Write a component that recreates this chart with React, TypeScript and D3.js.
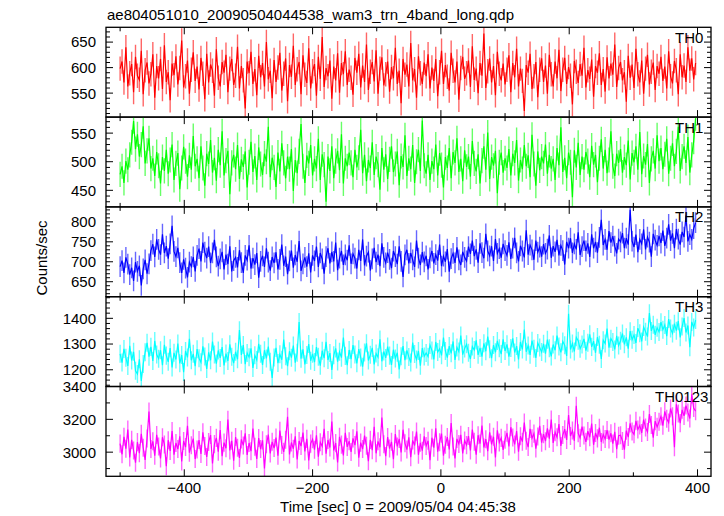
import React from 'react';
import * as d3 from 'd3';

const TITLE = 'ae804051010_20090504044538_wam3_trn_4band_long.qdp';
const X_LABEL = 'Time [sec] 0 = 2009/05/04 04:45:38';
const Y_LABEL = 'Counts/sec';
const T_START = -500;
const T_BIN = 3;
const X_DOMAIN = [-522, 421];
const X_MAJOR = [-400, -200, 0, 200, 400];
const X_MINOR = [-500, -300, -100, 100, 300];
const SERIES_NAMES = ['TH0', 'TH1', 'TH2', 'TH3', 'TH0123'];

const TH0 = [
  598,612,571,640,563,589,607,552,621,584,576,633,548,595,610,569,587,626,541,603,
  579,617,558,644,572,591,536,608,585,622,567,599,653,561,583,614,549,596,630,574,
  602,557,619,588,538,627,571,606,594,545,636,580,563,611,590,625,552,598,617,566,
  584,641,559,603,575,520,612,589,631,568,597,546,623,581,609,563,650,577,594,540,
  615,572,600,629,555,588,618,534,605,582,643,566,597,611,548,624,586,570,638,559,
  593,607,545,621,578,660,562,599,583,614,539,602,575,628,551,609,587,632,566,596,
  580,547,619,590,627,561,604,572,645,556,592,611,573,634,549,598,620,565,587,612,
  553,601,579,639,568,594,530,617,586,606,563,648,575,597,541,622,589,568,610,583,
  626,559,600,574,617,544,591,633,568,605,582,555,629,594,571,612,537,599,621,578,
  589,614,562,642,576,598,550,609,584,667,560,593,618,571,603,546,631,588,575,608,
  567,596,624,552,609,581,637,563,598,574,515,605,590,627,558,583,611,542,596,618,
  572,604,549,625,587,563,612,579,635,554,596,619,568,601,584,528,613,592,570,607,
  584,639,561,595,578,616,543,603,590,628,566,597,553,620,579,608,586,645,562,599,
  611,575,591,533,623,580,606,560,637,587,571,614,549,598,625,567,592,610,556,603,
  588,621,574,602,559,632,583,569,613,595,548,626,581,604,572,640,594,618,577,609,
];

const TH1 = [
  478,492,463,501,486,512,534,571,522,548,509,530,562,497,519,541,488,506,475,517,
  493,462,508,484,521,479,503,530,468,497,515,452,489,526,501,474,511,486,545,492,
  505,471,527,489,458,514,496,538,481,507,467,521,494,553,476,502,519,443,498,512,
  487,529,470,504,491,518,455,499,535,482,510,468,525,496,477,514,500,561,473,507,
  490,456,516,483,532,498,471,509,487,522,449,503,480,518,566,492,463,511,497,529,
  476,505,488,540,468,513,495,430,509,484,527,471,501,519,485,548,462,506,492,516,
  498,473,521,490,507,556,480,512,466,503,489,534,477,509,495,451,524,486,513,470,
  504,527,482,496,518,459,510,491,546,475,506,487,529,463,500,521,484,572,493,479,
  512,468,501,487,530,476,515,494,455,508,489,524,471,517,498,541,482,505,466,520,
  491,509,474,536,497,483,513,462,502,527,486,551,470,508,493,519,445,499,516,481,
  506,489,522,476,514,498,538,467,503,487,529,492,511,473,547,496,458,518,485,509,
  497,530,479,512,488,505,468,524,494,560,482,507,471,516,499,438,520,490,533,477,
  509,486,517,501,473,528,495,512,464,506,539,488,521,480,503,553,492,475,514,498,
  522,481,508,494,537,469,515,499,527,486,552,478,510,495,531,463,505,519,488,546,
  501,524,487,513,540,479,506,532,492,518,561,484,509,527,498,543,481,512,535,576,
];

const TH2 = [
  688,703,672,711,694,668,685,652,699,676,690,641,682,705,670,695,728,744,712,756,
  731,718,769,722,739,708,745,790,726,713,735,698,672,706,684,661,699,688,712,676,
  716,733,701,748,724,709,738,697,722,755,712,689,707,725,681,718,694,739,676,703,
  711,686,729,698,672,716,704,741,683,709,693,722,660,701,715,687,734,699,678,712,
  697,724,681,706,743,690,713,669,702,728,685,717,700,752,677,695,711,688,721,673,
  716,702,738,687,722,707,670,713,734,696,725,701,748,679,709,727,692,717,704,741,
  695,720,709,683,730,702,756,691,714,724,678,707,735,699,718,689,746,711,697,723,
  706,684,727,713,694,739,701,662,717,730,696,722,705,687,753,709,692,724,700,715,
  681,710,727,696,718,703,743,689,714,700,732,675,708,721,697,736,705,692,725,711,
  702,738,720,753,714,731,698,746,723,709,770,727,715,739,702,757,721,733,710,745,
  728,716,749,707,734,760,722,701,740,727,711,779,718,742,730,705,753,724,737,713,
  744,721,732,766,710,739,725,755,716,741,728,693,750,734,759,722,745,731,774,717,
  738,753,727,746,712,769,734,750,723,761,805,742,756,730,777,748,764,739,721,757,
  750,772,734,759,743,830,752,737,768,724,756,745,781,731,762,749,713,770,754,741,
  765,747,778,740,759,794,753,771,734,782,757,743,775,762,816,751,768,756,783,798,
];

const TH3 = [
  1262,1228,1281,1247,1215,1293,1236,1270,1196,1184,1241,1157,1222,1268,1305,1251,1289,1234,1312,1259,
  1243,1276,1218,1297,1255,1231,1284,1209,1266,1240,1302,1225,1257,1191,1273,1248,1320,1237,1262,1214,
  1280,1245,1229,1291,1252,1203,1268,1237,1310,1259,1224,1275,1246,1288,1217,1263,1234,1299,1251,1226,
  1270,1241,1354,1258,1296,1222,1265,1249,1283,1207,1256,1238,1301,1262,1219,1276,1244,1290,1231,1168,
  1248,1285,1226,1260,1239,1317,1253,1214,1272,1247,1294,1228,1266,1386,1243,1279,1221,1257,1300,1235,
  1262,1230,1288,1251,1216,1274,1245,1309,1238,1265,1199,1256,1283,1232,1270,1247,1325,1254,1218,1277,
  1241,1296,1259,1225,1280,1248,1212,1267,1303,1236,1258,1285,1221,1263,1249,1318,1233,1271,1246,1290,
  1255,1219,1278,1244,1266,1201,1253,1292,1237,1275,1250,1228,1306,1261,1240,1273,1216,1284,1252,1265,
  1251,1296,1275,1240,1308,1269,1282,1256,1325,1273,1247,1292,1264,1310,1238,1287,1271,1333,1259,1283,
  1299,1266,1242,1290,1277,1314,1258,1285,1251,1303,1272,1329,1280,1245,1296,1268,1312,1284,1261,1318,
  1273,1299,1251,1285,1322,1267,1292,1240,1308,1279,1356,1270,1294,1258,1313,1282,1246,1304,1287,1269,
  1301,1263,1317,1284,1252,1298,1276,1333,1290,1268,1310,1295,1254,1418,1279,1302,1271,1326,1313,1282,
  1298,1320,1274,1305,1338,1289,1311,1266,1327,1297,1242,1315,1302,1360,1286,1321,1308,1279,1332,1294,
  1313,1341,1299,1326,1282,1350,1317,1335,1304,1362,1342,1310,1366,1348,1329,1420,1351,1375,1336,1363,
  1347,1385,1356,1374,1331,1397,1360,1341,1379,1352,1389,1326,1368,1401,1345,1372,1288,1386,1364,1393,
];

const TH0123 = [
  3052,2987,3094,3021,3138,2968,3075,3010,2936,3061,2994,3112,3027,2953,3083,3248,3019,3066,2978,3105,
  3034,2962,3091,3047,2915,3073,3008,3129,2985,3056,3019,3097,2944,3068,3031,3160,2997,3042,3083,2958,
  3016,3074,2989,3121,3038,2971,3062,3104,2931,3049,3087,3003,3135,2976,3058,3024,3198,3011,3069,2948,
  3092,3027,2965,3078,3041,3115,2983,3056,3006,3144,3033,2959,3086,3019,3072,2901,3048,3107,2992,3063,
  3025,3089,2978,3131,3044,3002,3076,3215,2986,3059,3021,3097,2955,3068,3037,3119,3004,3081,2949,3052,
  3079,3015,3103,2972,3060,3036,3142,2991,3074,3028,3186,3010,3055,2937,3093,3046,2980,3118,3032,3067,
  3001,3084,3043,3127,2966,3058,3019,3101,3039,2945,3075,3012,3154,2993,3066,3030,3211,3048,2976,3092,
  3022,3063,2957,3110,3035,3081,2998,3137,3054,3016,3090,2969,3072,3041,3125,2984,3057,3009,3096,3038,
  3069,2951,3088,3027,3146,3003,3060,3113,2979,3045,3092,3017,3178,3034,2962,3081,3050,3106,2993,3071,
  3043,3098,3011,3137,3064,2985,3103,3052,3162,3028,3079,3006,3121,3047,3094,2968,3133,3059,3087,3014,
  3076,3118,3035,3152,3089,3047,3128,3003,3097,3064,3181,3070,3031,3142,3085,3113,3022,3096,3160,3058,
  3110,3067,3145,3082,3199,3056,3121,3091,3171,3038,3104,3140,3075,3226,3098,3132,3069,3283,3115,3087,
  3156,3102,3063,3128,3091,3174,3045,3117,3084,3149,3062,3108,3080,3135,3077,3115,3052,3124,3018,3100,
  3103,3068,3015,3131,3092,3175,3126,3109,3191,3138,3163,3117,3198,3150,3123,3232,3166,3088,3189,3154,
  3185,3218,3161,3249,3204,3180,3266,3219,3030,3291,3236,3177,3258,3221,3284,3242,3205,3352,3269,3250,
];

const SERIES = [TH0, TH1, TH2, TH3, TH0123];
const ERRORS = [24, 22, 26, 35, 55];
const Y_DOMAINS = [[503, 679], [421, 578], [612.5, 837.5], [1135, 1484], [2853, 3400]];
const Y_MAJOR_STEP = [50, 50, 50, 100, 200];
const Y_MINOR_STEP = [10, 10, 10, 20, 100];
const COLORS = ['#ff0000', '#00ff00', '#0000ff', '#00ffff', '#ff00ff'];
const LABEL_X = [675, 675, 675, 675, 655];

const W = 724;
const H = 516;
const LEFT = 106;
const RIGHT = 711;
const TOP = 27.3;
const BOTTOM = 476.3;
const FONT = '"Liberation Sans", Arial, Helvetica, sans-serif';
const MAJ = 7;
const MIN = 4;

function ticks(d0: number, d1: number, step: number) {
  const out: number[] = [];
  const s = Math.ceil(d0 / step - 1e-9);
  const e = Math.floor(d1 / step + 1e-9);
  for (let k = s; k <= e; k++) out.push(k * step);
  return out;
}

export default function App() {
  const x = d3.scaleLinear().domain(X_DOMAIN).range([LEFT, RIGHT]);
  const ph = (BOTTOM - TOP) / SERIES.length;

  return (
    <svg width={W} height={H} style={{ position: 'absolute', left: 0, top: 0, background: '#fff' }}
      fontFamily={FONT}>
      <rect x={0} y={0} width={W} height={H} fill="#fff" />
      <text x={107} y={19.5} fontSize={15} fill="#000">{TITLE}</text>
      <text transform={`translate(46.5, 258) rotate(-90)`} textAnchor="middle" fontSize={15} fill="#000">{Y_LABEL}</text>
      <text x={398} y={511.5} textAnchor="middle" fontSize={15} fill="#000">{X_LABEL}</text>
      {SERIES.map((vals, k) => {
        const y0 = TOP + k * ph;
        const y1 = y0 + ph;
        const [d0, d1] = Y_DOMAINS[k];
        const y = d3.scaleLinear().domain([d0, d1]).range([y1, y0]);
        const line = d3.line<number>()
          .x((_, i) => x(T_START + i * T_BIN))
          .y((v) => y(v));
        const err = ERRORS[k];
        const errPath = vals
          .map((v, i) => {
            const xx = x(T_START + i * T_BIN);
            return `M${xx},${y(v - err)}V${y(v + err)}`;
          })
          .join('');
        const major = ticks(d0, d1, Y_MAJOR_STEP[k]);
        const minor = ticks(d0, d1, Y_MINOR_STEP[k]).filter((v) => !major.some((m) => Math.abs(m - v) < 1e-6));
        const clipId = `clip${k}`;
        return (
          <g key={k}>
            <defs>
              <clipPath id={clipId}>
                <rect x={LEFT} y={y0} width={RIGHT - LEFT} height={ph} />
              </clipPath>
            </defs>
            <g clipPath={`url(#${clipId})`}>
              <path d={errPath} fill="none" stroke={COLORS[k]} strokeOpacity={0.6} strokeWidth={1.4} />
              <path d={line(vals) || ''} fill="none" stroke={COLORS[k]} strokeWidth={1.2} />
            </g>
            {major.map((v) => (
              <g key={`M${v}`}>
                <line x1={LEFT} x2={LEFT + MAJ} y1={y(v)} y2={y(v)} stroke="#000" strokeWidth={1} />
                <line x1={RIGHT - MAJ} x2={RIGHT} y1={y(v)} y2={y(v)} stroke="#000" strokeWidth={1} />
                <text x={96} y={y(v)} dy="0.36em" textAnchor="end" fontSize={15} fill="#000">{v}</text>
              </g>
            ))}
            {minor.map((v) => (
              <g key={`m${v}`}>
                <line x1={LEFT} x2={LEFT + MIN} y1={y(v)} y2={y(v)} stroke="#000" strokeWidth={1} />
                <line x1={RIGHT - MIN} x2={RIGHT} y1={y(v)} y2={y(v)} stroke="#000" strokeWidth={1} />
              </g>
            ))}
            {X_MAJOR.map((t) => (
              <g key={`X${t}`}>
                <line x1={x(t)} x2={x(t)} y1={y0} y2={y0 + MAJ} stroke="#000" strokeWidth={1} />
                <line x1={x(t)} x2={x(t)} y1={y1 - MAJ} y2={y1} stroke="#000" strokeWidth={1} />
              </g>
            ))}
            {X_MINOR.map((t) => (
              <g key={`x${t}`}>
                <line x1={x(t)} x2={x(t)} y1={y0} y2={y0 + MIN} stroke="#000" strokeWidth={1} />
                <line x1={x(t)} x2={x(t)} y1={y1 - MIN} y2={y1} stroke="#000" strokeWidth={1} />
              </g>
            ))}
            <rect x={LEFT} y={y0} width={RIGHT - LEFT} height={ph} fill="none" stroke="#000" strokeWidth={1.3} />
            <text x={LABEL_X[k]} y={y0 + 15.5} fontSize={15} fill="#000">{SERIES_NAMES[k]}</text>
          </g>
        );
      })}
      {X_MAJOR.map((t) => (
        <text key={`xl${t}`} x={x(t)} y={493} textAnchor="middle" fontSize={15} fill="#000">
          {t < 0 ? `\u2212${Math.abs(t)}` : `${t}`}
        </text>
      ))}
    </svg>
  );
}
